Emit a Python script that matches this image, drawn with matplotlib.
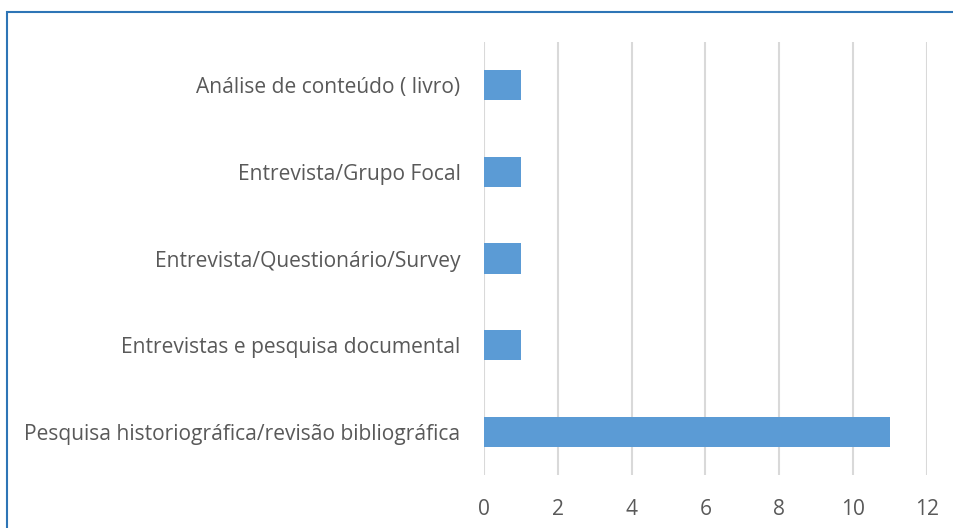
import matplotlib
matplotlib.use("Agg")
import matplotlib.pyplot as plt
from matplotlib.patches import Rectangle

categories = [
    "Pesquisa historiográfica/revisão bibliográfica",
    "Entrevistas e pesquisa documental",
    "Entrevista/Questionário/Survey",
    "Entrevista/Grupo Focal",
    "Análise de conteúdo ( livro)",
]
values = [11, 1, 1, 1, 1]
xticks = [0, 2, 4, 6, 8, 10, 12]

plt.rcParams['font.family'] = ['Open Sans', 'DejaVu Sans']

W, H = 954, 528
fig = plt.figure(figsize=(W / 100, H / 100), dpi=100)
ax = fig.add_axes([484 / W, 1 - 475 / H, (927 - 484) / W, (475 - 42) / H])

ypos = list(range(len(categories)))
ax.barh(ypos, values, height=0.35, color="#5b9bd5", zorder=3)
ax.set_xlim(0, 12)
ax.set_ylim(-0.5, len(categories) - 0.5)
ax.set_xticks(xticks)
ax.set_xticklabels([str(t) for t in xticks])
ax.set_yticks(ypos)
ax.set_yticklabels(categories)
ax.grid(axis="x", color="#d9d9d9", linewidth=1.5, zorder=0)
for s in ax.spines.values():
    s.set_visible(False)
ax.tick_params(axis="both", length=0, labelsize=15.1, labelcolor="#595959")
ax.tick_params(axis="y", pad=17)
ax.tick_params(axis="x", pad=17)

border = Rectangle((7 / W, -0.1), 1.2, 1 - 12 / H + 0.1, transform=fig.transFigure,
                   fill=False, edgecolor="#2e75b6", linewidth=1.5, clip_on=False)
fig.patches.append(border)

fig.savefig("out.png", dpi=100)
